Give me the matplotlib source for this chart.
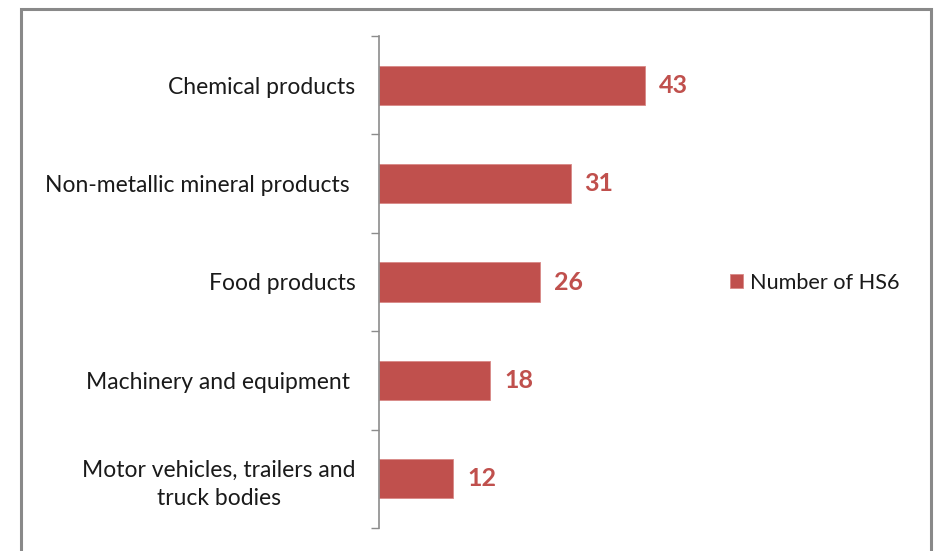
import matplotlib.pyplot as plt
from matplotlib.patches import Rectangle

categories = [
    "Chemical products",
    "Non-metallic mineral products ",
    "Food products",
    "Machinery and equipment ",
    "Motor vehicles, trailers and\ntruck bodies",
]
values = [43, 31, 26, 18, 12]
series_name = "Number of HS6"

BAR_COLOR = "#C0504D"
W, H = 934, 551

plt.rcParams["font.family"] = ["Lato", "DejaVu Sans"]

fig = plt.figure(figsize=(W / 100, H / 100), dpi=100)
fig.patch.set_facecolor("white")

# outer chart frame (bottom edge runs off the image)
fig.add_artist(Rectangle((21 / W, -0.05), 910 / W, 1.05 - 9.5 / H,
                         transform=fig.transFigure, fill=False,
                         edgecolor="#898989", linewidth=2.2))

ax = fig.add_axes([379 / W, 23 / H, 309 / W, 492 / H])
ypos = list(range(len(categories)))
bars = ax.barh(ypos, values, height=0.4, color=BAR_COLOR,
               edgecolor="#d98886", linewidth=0.6, label=series_name)

ax.set_xlim(0, 50)
ax.set_ylim(len(categories) - 0.5, -0.5)
ax.set_yticks(ypos)
ax.set_yticklabels(categories, fontsize=16.5, color="#1a1a1a",
                   multialignment="center", linespacing=1.4)
ax.set_yticks([i - 0.5 for i in range(len(categories) + 1)], minor=True)
ax.tick_params(axis="y", which="major", length=0, pad=17)
ax.tick_params(axis="y", which="minor", length=6, width=1.0, color="#8c8c8c")
ax.set_xticks([])

for side in ("top", "right", "bottom"):
    ax.spines[side].set_visible(False)
ax.spines["left"].set_color("#8c8c8c")
ax.spines["left"].set_linewidth(1.2)

for bar, v in zip(bars, values):
    ax.annotate(str(v), (bar.get_width(), bar.get_y() + bar.get_height() / 2),
                xytext=(14, 0), textcoords="offset pixels",
                va="center", ha="left", fontsize=18, fontweight="bold",
                color=BAR_COLOR)

fig.legend(loc="center left", bbox_to_anchor=(719 / W, 1 - 283 / H),
           frameon=False, fontsize=15.6, handlelength=0.6, handleheight=0.6,
           handletextpad=0.35, borderpad=0, labelcolor="#1a1a1a")

fig.savefig("out.png", dpi=100)
plt.close(fig)
